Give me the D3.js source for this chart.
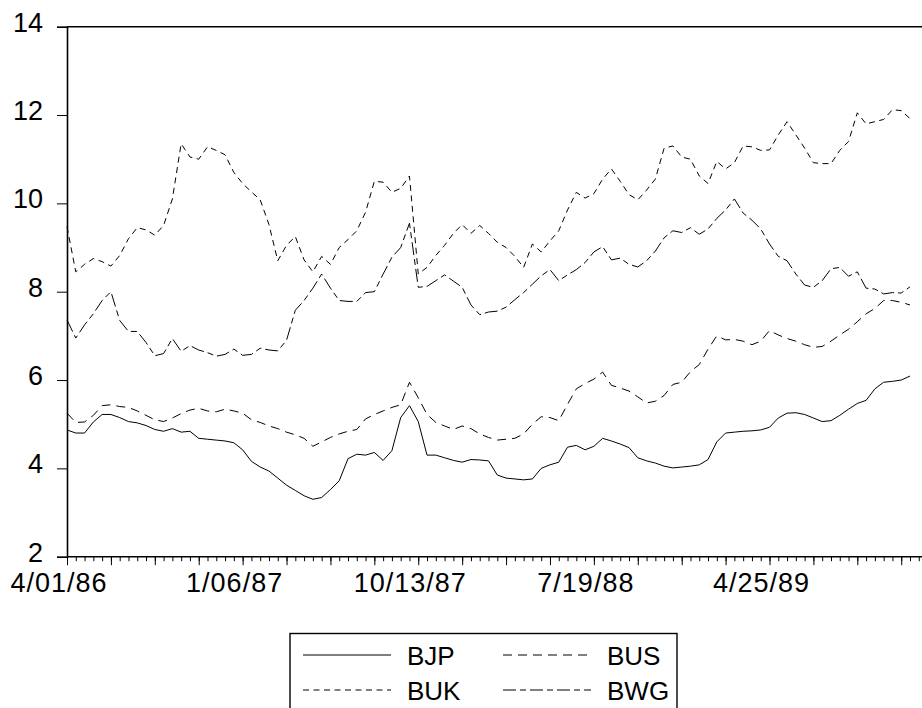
<!DOCTYPE html>
<html>
<head>
<meta charset="utf-8">
<script src="https://cdn.jsdelivr.net/npm/d3@7/dist/d3.min.js"></script>
<style>
  html, body { margin: 0; padding: 0; background: #fff; }
  svg { display: block; }
  text { font-family: "Liberation Sans", Arial, sans-serif; fill: #000; }
</style>
</head>
<body>
<svg id="chart" width="922" height="708"></svg>
<script>
// Weekly exchange-rate series sampled every two weeks, starting Tuesday 4/01/86
const startDate = "1986-04-01";
const stepDays = 14;

const seriesNames = ["BJP", "BUS", "BUK", "BWG"];

const BJP = [4.87,4.80,4.80,5.05,5.22,5.22,5.15,5.06,5.03,4.97,4.88,4.84,4.90,4.82,4.84,4.68,4.66,4.64,4.62,4.58,
  4.42,4.16,4.03,3.94,3.78,3.62,3.50,3.38,3.30,3.34,3.52,3.72,4.22,4.32,4.30,4.36,4.18,4.40,5.15,5.42,
  5.06,4.30,4.30,4.24,4.18,4.14,4.20,4.19,4.17,3.85,3.78,3.76,3.74,3.76,4.00,4.08,4.14,4.48,4.52,4.42,
  4.50,4.68,4.62,4.55,4.47,4.24,4.17,4.12,4.05,4.01,4.03,4.05,4.08,4.20,4.60,4.80,4.82,4.84,4.85,4.87,
  4.93,5.14,5.25,5.26,5.22,5.14,5.06,5.08,5.20,5.34,5.47,5.54,5.80,5.95,5.97,6.00,6.09];

const BUS = [5.25,5.04,5.05,5.20,5.42,5.44,5.40,5.38,5.30,5.20,5.10,5.06,5.14,5.24,5.32,5.36,5.30,5.28,5.34,5.30,
  5.25,5.10,5.04,4.96,4.90,4.82,4.76,4.68,4.50,4.60,4.70,4.78,4.84,4.88,5.12,5.22,5.30,5.38,5.44,5.95,
  5.60,5.22,5.04,4.96,4.88,4.96,4.90,4.78,4.70,4.64,4.66,4.68,4.78,5.00,5.17,5.15,5.08,5.45,5.80,5.92,
  6.02,6.18,5.88,5.82,5.75,5.62,5.48,5.52,5.65,5.90,5.95,6.19,6.35,6.70,7.00,6.91,6.92,6.88,6.80,6.88,
  7.12,7.02,6.94,6.88,6.80,6.74,6.76,6.88,7.02,7.15,7.32,7.50,7.62,7.80,7.80,7.76,7.70];

const BUK = [9.47,8.45,8.62,8.75,8.68,8.58,8.82,9.20,9.45,9.40,9.28,9.50,10.10,11.35,11.05,11.00,11.28,11.20,11.10,10.70,
  10.45,10.26,10.08,9.52,8.70,9.05,9.25,8.72,8.45,8.80,8.62,9.00,9.18,9.38,9.80,10.50,10.48,10.25,10.34,10.62,
  8.40,8.55,8.82,9.05,9.32,9.52,9.32,9.50,9.32,9.12,9.00,8.80,8.55,9.08,8.90,9.15,9.38,9.85,10.25,10.12,
  10.22,10.55,10.78,10.50,10.20,10.08,10.30,10.55,11.25,11.30,11.05,11.00,10.62,10.45,10.95,10.78,10.92,11.30,11.28,11.20,
  11.21,11.55,11.85,11.55,11.25,10.92,10.90,10.90,11.20,11.40,12.05,11.80,11.85,11.90,12.12,12.10,11.92];

const BWG = [7.36,6.95,7.25,7.50,7.80,8.00,7.35,7.10,7.10,6.85,6.55,6.60,6.94,6.65,6.78,6.68,6.62,6.54,6.58,6.70,
  6.56,6.58,6.72,6.68,6.66,6.90,7.58,7.80,8.08,8.40,8.08,7.80,7.78,7.78,7.98,8.00,8.40,8.78,9.00,9.55,
  8.10,8.12,8.25,8.38,8.24,8.10,7.70,7.48,7.54,7.56,7.65,7.82,7.98,8.17,8.36,8.50,8.25,8.38,8.50,8.66,
  8.90,9.02,8.72,8.76,8.62,8.56,8.70,8.92,9.22,9.38,9.34,9.45,9.30,9.42,9.66,9.85,10.10,9.78,9.62,9.42,
  9.08,8.80,8.70,8.40,8.15,8.10,8.25,8.52,8.55,8.35,8.45,8.08,8.06,7.95,7.98,7.97,8.11];

const yTicks = [2, 4, 6, 8, 10, 12, 14];
const xLabels = ["1986-04-01", "1987-01-06", "1987-10-13", "1988-07-19", "1989-04-25"];

// Line styles per series
const dashes = {
  BJP: null,
  BUS: "9,6",
  BUK: "6,4.5",
  BWG: "13,4,6,4"
};

const seriesValues = { BJP, BUS, BUK, BWG };

const svg = d3.select("#chart");
const plot = { left: 67, right: 922, top: 26.7, bottom: 556.7, dataRight: 910 };

const parse = d3.utcParse("%Y-%m-%d");
const start = parse(startDate);
const dates = BJP.map((_, k) => d3.utcDay.offset(start, stepDays * k));

const x = d3.scaleUtc()
  .domain([dates[0], dates[dates.length - 1]])
  .range([plot.left, plot.dataRight]);

const y = d3.scaleLinear().domain([2, 14]).range([plot.bottom, plot.top]);

// Frame: top edge
svg.append("line")
  .attr("x1", plot.left).attr("x2", plot.right)
  .attr("y1", plot.top).attr("y2", plot.top)
  .attr("stroke", "#000").attr("stroke-width", 1.6);

// Series lines
const line = d3.line()
  .x((d, i) => x(dates[i]))
  .y(d => y(d));

seriesNames.forEach(name => {
  svg.append("path")
    .datum(seriesValues[name])
    .attr("fill", "none")
    .attr("stroke", "#000")
    .attr("stroke-width", 1)
    .attr("stroke-dasharray", dashes[name])
    .attr("d", line);
});

// Y axis
const yAxis = svg.append("g")
  .attr("transform", `translate(${plot.left},0)`)
  .call(d3.axisLeft(y).tickValues(yTicks).tickSize(10).tickPadding(14).tickFormat(d3.format("d")));
yAxis.select(".domain").attr("stroke-width", 1.6);
yAxis.selectAll(".tick line").attr("stroke-width", 1);
yAxis.selectAll("text")
  .attr("dy", "0.16em")
  .style("font-size", "27px")
  .style("font-family", "'Liberation Sans', Arial, sans-serif");

// X axis: minor ticks every two weeks, major every ten weeks
const nMinor = 98;
const minorDates = d3.range(nMinor).map(j => d3.utcDay.offset(start, stepDays * j));
const majorDates = minorDates.filter((_, j) => j % 5 === 0);

const xMinor = svg.append("g")
  .attr("transform", `translate(0,${plot.bottom})`)
  .call(d3.axisBottom(x).tickValues(minorDates).tickSize(4.5).tickFormat(""));
xMinor.select(".domain").remove();

const xMajor = svg.append("g")
  .attr("transform", `translate(0,${plot.bottom})`)
  .call(d3.axisBottom(x).tickValues(majorDates).tickSize(8.5).tickFormat(""));
xMajor.select(".domain").remove();

svg.append("line")
  .attr("x1", plot.left).attr("x2", plot.right)
  .attr("y1", plot.bottom).attr("y2", plot.bottom)
  .attr("stroke", "#000").attr("stroke-width", 1.6);

// Date labels
const fmt = d3.utcFormat("%-m/%d/%y");
svg.append("g")
  .selectAll("text")
  .data(xLabels.map(parse))
  .join("text")
  .attr("x", d => x(d) - 8)
  .attr("y", 592)
  .attr("text-anchor", "middle")
  .style("font-size", "27px")
  .style("letter-spacing", "1px")
  .text(d => fmt(d));

// Legend
const legend = svg.append("g");
legend.append("rect")
  .attr("x", 290).attr("y", 633.5)
  .attr("width", 387).attr("height", 76)
  .attr("fill", "none").attr("stroke", "#000").attr("stroke-width", 1.4);

const legendPos = [
  { name: "BJP", lx: 303, ty: 655 },
  { name: "BUS", lx: 503, ty: 655 },
  { name: "BUK", lx: 303, ty: 690 },
  { name: "BWG", lx: 503, ty: 690 }
];
legendPos.forEach(p => {
  legend.append("line")
    .attr("x1", p.lx).attr("x2", p.lx + 88)
    .attr("y1", p.ty).attr("y2", p.ty)
    .attr("stroke", "#000").attr("stroke-width", 1)
    .attr("stroke-dasharray", dashes[p.name]);
  legend.append("text")
    .attr("x", p.lx + 104)
    .attr("y", p.ty + 9.5)
    .style("font-size", "26px")
    .text(p.name);
});
</script>
</body>
</html>
